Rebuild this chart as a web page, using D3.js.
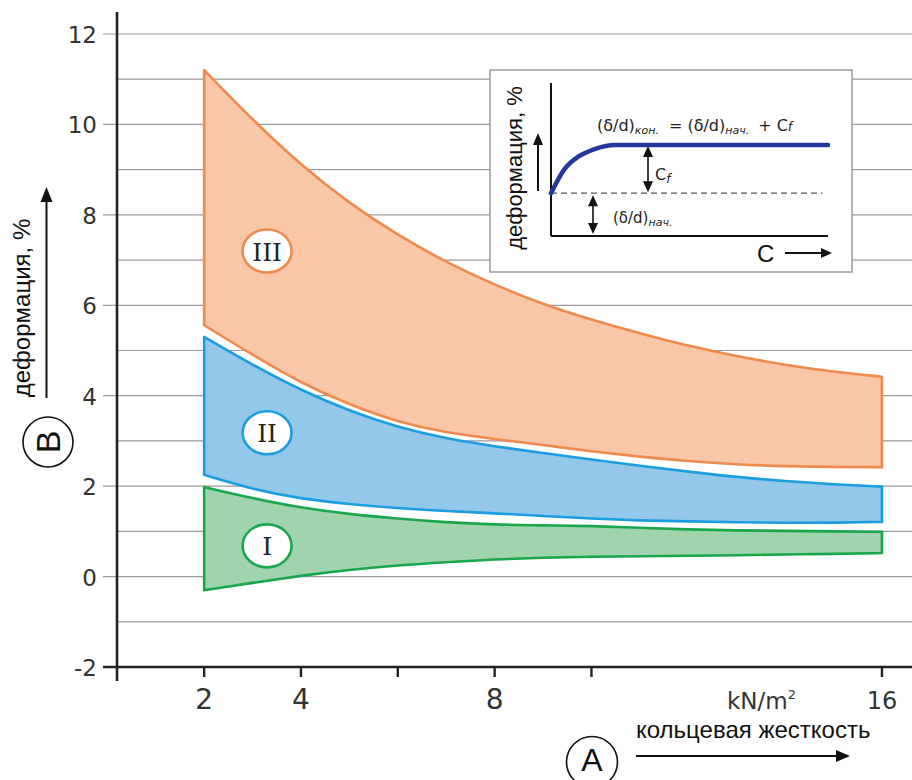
<!DOCTYPE html>
<html><head><meta charset="utf-8">
<script src="https://cdn.jsdelivr.net/npm/d3@7"></script>
<style>html,body{margin:0;padding:0;background:#fff;}svg{display:block;}</style>
</head><body>
<script>
// ---------- data ----------
const stiffness   = [2, 3, 4, 5, 6, 7, 8, 9, 10, 11, 12, 13, 14, 15, 16];
const zoneIIIUpper = [11.2, 10.1, 9.1, 8.25, 7.55, 6.95, 6.45, 6.02, 5.68, 5.38, 5.1, 4.87, 4.68, 4.53, 4.42];
const zoneIIILower = [5.56, 4.9, 4.28, 3.8, 3.42, 3.18, 3.04, 2.91, 2.77, 2.65, 2.55, 2.48, 2.44, 2.42, 2.42];
const zoneIIUpper  = [5.3, 4.68, 4.12, 3.66, 3.3, 3.05, 2.88, 2.73, 2.59, 2.45, 2.32, 2.2, 2.11, 2.04, 1.99];
const zoneIILower  = [2.25, 1.93, 1.72, 1.6, 1.51, 1.45, 1.4, 1.34, 1.28, 1.24, 1.22, 1.2, 1.19, 1.19, 1.21];
const zoneIUpper   = [1.98, 1.73, 1.52, 1.38, 1.28, 1.2, 1.15, 1.13, 1.12, 1.08, 1.04, 1.02, 1.01, 1.0, 0.99];
const zoneILower   = [-0.3, -0.14, 0.02, 0.15, 0.25, 0.32, 0.38, 0.42, 0.44, 0.45, 0.46, 0.47, 0.49, 0.5, 0.52];
const zoneNames = ["III", "II", "I"];
const zoneLabelPos = [[3.3, 7.2], [3.3, 3.18], [3.3, 0.68]];

const yGridValues = [-2, -1, 0, 1, 2, 3, 4, 5, 6, 7, 8, 9, 10, 11, 12];
const yTickValues = [-2, 0, 2, 4, 6, 8, 10, 12];
const xTickValues = [2, 4, 6, 8, 10, 16];
const xTickLabels = ["2", "4", "", "8", "", "16"];

// inset (schematic) curve
const insetX = [0, 0.5, 1.0, 1.6, 2.3, 4, 10];
const insetY = [2.8, 4.4, 5.2, 5.7, 5.95, 5.95, 5.95];
const insetBase = 2.8;

// ---------- layout ----------
const W = 912, H = 780;
const svg = d3.select("body").append("svg").attr("width", W).attr("height", H);

const x = d3.scaleLinear().domain([0.2, 16.6]).range([117, 911]);
const y = d3.scaleLinear().domain([-2, 12]).range([667, 34]);

const colors = {
  III: {fill: "#f9c6a7", stroke: "#ef8a4c"},
  II:  {fill: "#93c8eb", stroke: "#1c9de0"},
  I:   {fill: "#9fd4ad", stroke: "#1aa64c"}
};

// grid
svg.append("g").selectAll("line").data(yGridValues).join("line")
  .attr("x1", d => d % 2 === 0 ? 103 : 117).attr("x2", W)
  .attr("y1", d => y(d)).attr("y2", d => y(d))
  .attr("stroke", "#9a9a9a").attr("stroke-width", 1.2);

// zones
const zones = [
  {name: "III", up: zoneIIIUpper, lo: zoneIIILower},
  {name: "II", up: zoneIIUpper, lo: zoneIILower},
  {name: "I", up: zoneIUpper, lo: zoneILower}
];
const area = d3.area().curve(d3.curveBasis)
  .x(d => x(d.x)).y0(d => y(d.lo)).y1(d => y(d.up));
zones.forEach(z => {
  const pts = stiffness.map((s, i) => ({x: s, up: z.up[i], lo: z.lo[i]}));
  svg.append("path").datum(pts).attr("d", area)
    .attr("fill", colors[z.name].fill)
    .attr("stroke", colors[z.name].stroke).attr("stroke-width", 2.6)
    .attr("stroke-linejoin", "round");
});

// zone labels
zoneNames.forEach((n, i) => {
  const cx = x(zoneLabelPos[i][0]), cy = y(zoneLabelPos[i][1]);
  svg.append("ellipse").attr("cx", cx).attr("cy", cy).attr("rx", 24.5).attr("ry", 21.5)
    .attr("fill", "#fff").attr("stroke", colors[n].stroke).attr("stroke-width", 2.6);
  svg.append("text").attr("x", cx).attr("y", cy + 9.5).attr("text-anchor", "middle")
    .attr("font-family", "DejaVu Serif").attr("font-size", 25).attr("fill", "#222")
    .text(n);
});

// axes
const axisColor = "#222";
svg.append("line").attr("x1", 117).attr("x2", 117).attr("y1", 12).attr("y2", 681)
  .attr("stroke", axisColor).attr("stroke-width", 2.6);
svg.append("line").attr("x1", 103).attr("x2", W).attr("y1", 667).attr("y2", 667)
  .attr("stroke", axisColor).attr("stroke-width", 2.6);

// y tick labels
svg.append("g").selectAll("text").data(yTickValues).join("text")
  .attr("x", 97).attr("y", d => y(d) + 9).attr("text-anchor", "end")
  .attr("font-family", "DejaVu Sans").attr("font-size", 23).attr("fill", "#333")
  .text(d => d);

// x ticks
svg.append("g").selectAll("line").data(xTickValues).join("line")
  .attr("x1", d => x(d)).attr("x2", d => x(d)).attr("y1", 667).attr("y2", 677)
  .attr("stroke", axisColor).attr("stroke-width", 2.4);
svg.append("g").selectAll("text").data(xTickValues).join("text")
  .attr("x", d => x(d)).attr("y", 709).attr("text-anchor", "middle")
  .attr("font-family", "DejaVu Sans")
  .attr("font-size", d => d === 16 ? 24 : 28).attr("fill", "#333")
  .text((d, i) => xTickLabels[i]);

// units
const unit = svg.append("text").attr("x", 727).attr("y", 709)
  .attr("font-family", "DejaVu Sans").attr("font-size", 23).attr("fill", "#333");
unit.append("tspan").text("kN/m");
unit.append("tspan").attr("font-size", 13).attr("dy", -10).text("2");

// arrowhead helper
function arrowHead(g, px, py, dir, len, half) {
  let pts;
  if (dir === "up") pts = [[px, py], [px - half, py + len], [px + half, py + len]];
  else if (dir === "down") pts = [[px, py], [px - half, py - len], [px + half, py - len]];
  else pts = [[px, py], [px - len, py - half], [px - len, py + half]];
  g.append("path").attr("d", "M" + pts.map(p => p.join(",")).join("L") + "Z").attr("fill", "#111");
}

// x axis title
svg.append("text").attr("x", 636).attr("y", 738)
  .attr("font-family", "Liberation Sans").attr("font-size", 24).attr("fill", "#111")
  .text("кольцевая жесткость");
svg.append("line").attr("x1", 636).attr("x2", 838).attr("y1", 756).attr("y2", 756)
  .attr("stroke", "#111").attr("stroke-width", 2);
arrowHead(svg, 850, 756, "right", 14, 6);
svg.append("circle").attr("cx", 592).attr("cy", 762).attr("r", 25.5)
  .attr("fill", "none").attr("stroke", "#111").attr("stroke-width", 1.6);
svg.append("text").attr("x", 592).attr("y", 771).attr("text-anchor", "middle")
  .attr("font-family", "Liberation Sans").attr("font-size", 32).attr("fill", "#111").text("A");

// y axis title
svg.append("text").attr("transform", "translate(30,308) rotate(-90)")
  .attr("text-anchor", "middle")
  .attr("font-family", "Liberation Sans").attr("font-size", 24).attr("fill", "#111")
  .text("деформация, %");
svg.append("line").attr("x1", 46.5).attr("x2", 46.5).attr("y1", 398).attr("y2", 200)
  .attr("stroke", "#111").attr("stroke-width", 2);
arrowHead(svg, 46.5, 187, "up", 15, 6);
svg.append("circle").attr("cx", 48).attr("cy", 442).attr("r", 25)
  .attr("fill", "none").attr("stroke", "#111").attr("stroke-width", 1.6);
svg.append("text").attr("transform", "translate(60,442) rotate(-90)").attr("text-anchor", "middle")
  .attr("font-family", "Liberation Sans").attr("font-size", 34).attr("fill", "#111").text("B");

// ---------- inset ----------
const ins = svg.append("g");
ins.append("rect").attr("x", 490).attr("y", 70).attr("width", 362).attr("height", 202)
  .attr("fill", "#fff").attr("stroke", "#a0a0a0").attr("stroke-width", 1.6);
const ix = d3.scaleLinear().domain([0, 10]).range([551, 828]);
const iy = d3.scaleLinear().domain([0, 10]).range([236, 83]);
ins.append("line").attr("x1", ix(0)).attr("x2", ix(0)).attr("y1", iy(10)).attr("y2", iy(0))
  .attr("stroke", "#111").attr("stroke-width", 2);
ins.append("line").attr("x1", ix(0)).attr("x2", ix(10)).attr("y1", iy(0)).attr("y2", iy(0))
  .attr("stroke", "#111").attr("stroke-width", 2);
ins.append("line").attr("x1", ix(0)).attr("x2", ix(9.8)).attr("y1", iy(insetBase)).attr("y2", iy(insetBase))
  .attr("stroke", "#555").attr("stroke-width", 1.4).attr("stroke-dasharray", "6,4");
ins.append("path").datum(insetX.map((v, i) => [v, insetY[i]]))
  .attr("d", d3.line().curve(d3.curveMonotoneX).x(d => ix(d[0])).y(d => iy(d[1])))
  .attr("fill", "none").attr("stroke", "#24389c").attr("stroke-width", 4.5).attr("stroke-linecap", "round");

// inset y label + arrow
ins.append("text").attr("transform", "translate(522,168) rotate(-90)").attr("text-anchor", "middle")
  .attr("font-family", "Liberation Sans").attr("font-size", 22).attr("fill", "#111")
  .text("деформация, %");
ins.append("line").attr("x1", 538).attr("x2", 538).attr("y1", 191).attr("y2", 142)
  .attr("stroke", "#111").attr("stroke-width", 2);
arrowHead(ins, 538, 133, "up", 12, 5);

// C_f arrow
const cfX = 648;
ins.append("line").attr("x1", cfX).attr("x2", cfX).attr("y1", iy(5.95) + 8).attr("y2", iy(insetBase) - 8)
  .attr("stroke", "#111").attr("stroke-width", 1.6);
arrowHead(ins, cfX, iy(5.95) + 1, "up", 11, 5);
arrowHead(ins, cfX, iy(insetBase) - 1, "down", 11, 5);
const cf = ins.append("text").attr("x", 655).attr("y", 180)
  .attr("font-family", "DejaVu Sans").attr("font-size", 16).attr("fill", "#222");
cf.append("tspan").text("C");
cf.append("tspan").attr("font-size", 12).attr("font-style", "italic").attr("dy", 3).text("f");

// (δ/d)нач arrow
const dX = 593;
ins.append("line").attr("x1", dX).attr("x2", dX).attr("y1", iy(insetBase) + 10).attr("y2", iy(0) - 10)
  .attr("stroke", "#111").attr("stroke-width", 1.6);
arrowHead(ins, dX, iy(insetBase) + 2, "up", 11, 5);
arrowHead(ins, dX, iy(0) - 2, "down", 11, 5);
const dn = ins.append("text").attr("x", 613).attr("y", 223)
  .attr("font-family", "DejaVu Sans").attr("font-size", 15).attr("fill", "#222");
dn.append("tspan").text("(δ/d)");
dn.append("tspan").attr("font-size", 11).attr("font-style", "italic").attr("dy", 3).text("нач.");

// formula
const f = ins.append("text").attr("x", 597).attr("y", 131)
  .attr("font-family", "DejaVu Sans").attr("font-size", 16).attr("fill", "#222");
f.append("tspan").text("(δ/d)");
f.append("tspan").attr("font-size", 11).attr("font-style", "italic").attr("dy", 3).text("кон.");
f.append("tspan").attr("dy", -3).attr("dx", 10).text("= (δ/d)");
f.append("tspan").attr("font-size", 11).attr("font-style", "italic").attr("dy", 3).text("нач.");
f.append("tspan").attr("dy", -3).attr("dx", 9).text("+ C");
f.append("tspan").attr("font-size", 13).attr("font-style", "italic").text("f");

// C ->
ins.append("text").attr("x", 757).attr("y", 262)
  .attr("font-family", "Liberation Sans").attr("font-size", 24).attr("fill", "#111").text("C");
ins.append("line").attr("x1", 785).attr("x2", 822).attr("y1", 253).attr("y2", 253)
  .attr("stroke", "#111").attr("stroke-width", 2);
arrowHead(ins, 832, 253, "right", 11, 5);
</script>
</body></html>
